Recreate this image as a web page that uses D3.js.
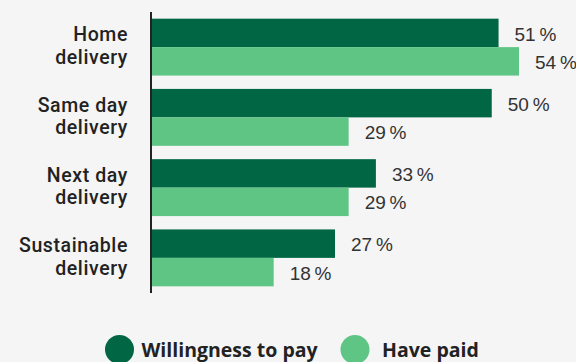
<!DOCTYPE html>
<html>
<head>
<meta charset="utf-8">
<script src="https://cdn.jsdelivr.net/npm/d3@7"></script>
<style>
  html, body { margin: 0; padding: 0; background: #f5f5f5; }
  svg { display: block; }
</style>
</head>
<body>
<div id="chart"></div>
<script>
// chart data
var categories = ["Home delivery", "Same day delivery", "Next day delivery", "Sustainable delivery"];
var catLines = [["Home", "delivery"], ["Same day", "delivery"], ["Next day", "delivery"], ["Sustainable", "delivery"]];
var seriesNames = ["Willingness to pay", "Have paid"];
var willingness = [51, 50, 33, 27];
var havePaid = [54, 29, 29, 18];
var colors = ["#006643", "#5ec585"];

var width = 576, height = 362;
var svg = d3.select("#chart").append("svg")
  .attr("width", width)
  .attr("height", height);

svg.append("rect").attr("width", width).attr("height", height).attr("fill", "#f5f5f5");

var x0 = 151;
var x = d3.scaleLinear().domain([0, 54]).range([x0, 519]);
var y = d3.scaleBand().domain(categories).range([12, 293])
  .paddingInner(0.19).paddingOuter(0.095);
var ySub = d3.scaleBand().domain(seriesNames).range([0, y.bandwidth()]);

var rows = categories.map(function (c, i) {
  return { cat: c, lines: catLines[i], vals: [willingness[i], havePaid[i]] };
});

var g = svg.selectAll(".grp").data(rows).enter().append("g")
  .attr("class", "grp")
  .attr("transform", function (d) { return "translate(0," + y(d.cat) + ")"; });

g.selectAll("rect").data(function (d) {
    return d.vals.map(function (v, k) { return { v: v, s: seriesNames[k], k: k }; });
  }).enter().append("rect")
  .attr("x", x0)
  .attr("y", function (d) { return ySub(d.s); })
  .attr("width", function (d) { return x(d.v) - x0; })
  .attr("height", ySub.bandwidth())
  .attr("fill", function (d) { return colors[d.k]; });

// value labels
g.selectAll("text.val").data(function (d) {
    return d.vals.map(function (v, k) { return { v: v, s: seriesNames[k] }; });
  }).enter().append("text")
  .attr("class", "val")
  .attr("x", function (d) { return x(d.v) + 16; })
  .attr("y", function (d) { return ySub(d.s) + ySub.bandwidth() / 2 + 1; })
  .attr("dy", "0.35em")
  .attr("font-family", "'Liberation Sans', Arial, sans-serif")
  .attr("font-size", 19)
  .attr("fill", "#333")
  .text(function (d) { return d.v + "\u2009%"; });

// category labels (two lines each)
g.append("text")
  .attr("text-anchor", "end")
  .attr("font-family", "Roboto, sans-serif")
  .attr("font-weight", 500)
  .attr("font-size", 19.5)
  .attr("letter-spacing", 0.6)
  .attr("fill", "#222")
  .selectAll("tspan").data(function (d) { return d.lines; }).enter().append("tspan")
  .attr("x", 128)
  .attr("y", function (d, i) { return y.bandwidth() / 2 - 5.8 + i * 22.6; })
  .text(function (d) { return d; });

// axis line
svg.append("line")
  .attr("x1", x0).attr("x2", x0)
  .attr("y1", 12).attr("y2", 293)
  .attr("stroke", "#222").attr("stroke-width", 2);

// legend
var legX = [119.5, 355];
var legTextX = [22, 27];
var leg = svg.selectAll(".leg").data(seriesNames).enter().append("g")
  .attr("class", "leg")
  .attr("transform", function (d, i) { return "translate(" + legX[i] + ",349.5)"; });
leg.append("circle").attr("r", 14.5).attr("fill", function (d, i) { return colors[i]; });
leg.append("text")
  .attr("x", function (d, i) { return legTextX[i]; })
  .attr("y", 7.5)
  .attr("font-family", "'Open Sans', sans-serif")
  .attr("font-weight", 700)
  .attr("font-size", 19.5)
  .attr("fill", "#222")
  .text(function (d) { return d; });
</script>
</body>
</html>
